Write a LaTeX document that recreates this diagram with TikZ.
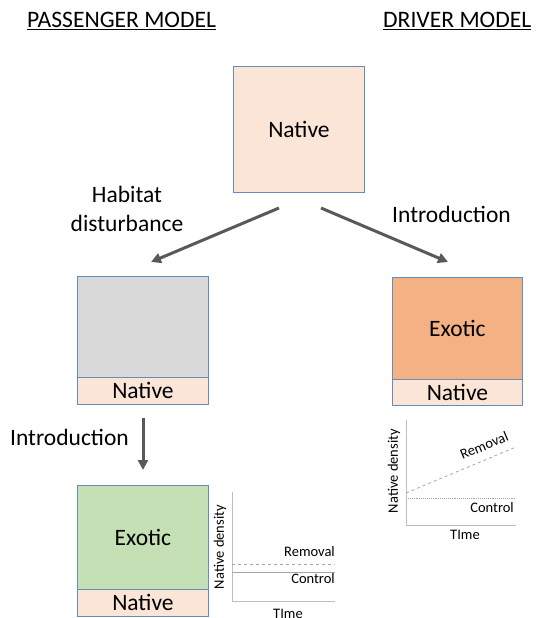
\documentclass[tikz,border=0pt]{standalone}
\usepackage{fontspec}
\setmainfont{Carlito}
\usetikzlibrary{arrows.meta}
\definecolor{nat}{RGB}{251,229,214}
\definecolor{edgeblue}{RGB}{100,140,190}
\definecolor{grayf}{RGB}{217,217,217}
\definecolor{exo}{RGB}{244,177,131}
\definecolor{grn}{RGB}{197,224,180}
\definecolor{arr}{RGB}{89,89,89}
\definecolor{axisc}{RGB}{191,191,191}
\definecolor{linec}{RGB}{166,166,166}
\begin{document}
\begin{tikzpicture}[x=1pt,y=-1pt,
  box/.style={draw=edgeblue, line width=0.9pt, inner sep=0pt, anchor=north west, font=\fontsize{23.5}{28}\selectfont},
  bigtxt/.style={inner sep=0pt, anchor=base, font=\fontsize{23.5}{29}\selectfont},
  ttl/.style={inner sep=0pt, anchor=base west, font=\fontsize{23.6}{28}\selectfont},
  small/.style={inner sep=0pt, font=\fontsize{14.5}{17}\selectfont},
  bigarrow/.style={draw=arr, line width=3pt, -{Triangle[length=10pt,width=10pt]}},
  axisline/.style={draw=axisc, line width=0.8pt},
  dashline/.style={draw=linec, line width=0.8pt, dashed},
  ctrlline/.style={draw=linec, line width=0.9pt}
]
\useasboundingbox (0,0) rectangle (536,618);
% titles
\node[ttl] (tp) at (27,28) {\underline{PASSENGER MODEL}};
\node[ttl] (td) at (383,28) {\underline{DRIVER MODEL}};
% top box
\node[box, fill=nat, minimum width=131pt, minimum height=126pt] (top) at (233,66) {Native};
% labels
\node[bigtxt, align=center] (hab) at (127,231) {Habitat\\disturbance};
\node[bigtxt, anchor=base west] (intr) at (392,222) {Introduction};
\node[bigtxt, anchor=base west] (intl) at (10,445) {Introduction};
% left middle
\node[box, fill=grayf, minimum width=131pt, minimum height=101pt] (lg) at (77,276) {};
\node[box, fill=nat, minimum width=131pt, minimum height=27pt] (ln) at (77,377) {Native};
% right middle
\node[box, fill=exo, minimum width=130pt, minimum height=102pt] (re) at (392,277) {Exotic};
\node[box, fill=nat, minimum width=130pt, minimum height=26pt] (rn) at (392,379) {Native};
% bottom left
\node[box, fill=grn, minimum width=131pt, minimum height=104pt] (be) at (77,485) {Exotic};
\node[box, fill=nat, minimum width=131pt, minimum height=27pt] (bn) at (77,589) {Native};
% arrows
\coordinate (a1s) at (279,208);
\coordinate (a1e) at (151,262);
\coordinate (a2s) at (321,208);
\coordinate (a2e) at (448,262);
\coordinate (a3s) at (143,418);
\coordinate (a3e) at (143,470);
\draw[bigarrow] (a1s) -- (a1e);
\draw[bigarrow] (a2s) -- (a2e);
\draw[bigarrow] (a3s) -- (a3e);
% bottom-left chart
\coordinate (bo) at (232,601);
\coordinate (by) at (232,492);
\coordinate (bx) at (335,601);
\draw[axisline] (by) -- (bo) -- (bx);
\coordinate (bd1) at (232,564);
\coordinate (bd2) at (335,564);
\draw[dashline] (bd1) -- (bd2);
\coordinate (bc1) at (232,572);
\coordinate (bc2) at (335,572);
\draw[ctrlline] (bc1) -- (bc2);
\node[small, anchor=base east] (brem) at (335,556) {Removal};
\node[small, anchor=base east] (bctl) at (335,583) {Control};
\node[small, rotate=90] (bnd) at (220,547) {Native density};
\node[small, anchor=north] (btime) at (288,609) {TIme};
% right chart
\coordinate (ro) at (406,525);
\coordinate (ry) at (406,420);
\coordinate (rx) at (516,525);
\draw[axisline] (ry) -- (ro) -- (rx);
\coordinate (rc1) at (406,498);
\coordinate (rc2) at (516,498);
\draw[ctrlline, densely dotted] (rc1) -- (rc2);
\coordinate (rd1) at (406,493);
\coordinate (rd2) at (516,447);
\draw[dashline] (rd1) -- (rd2);
\node[small, anchor=base, rotate=22.7] (rrem) at (486,450) {Removal};
\node[small, anchor=base east] (rctl) at (514,512) {Control};
\node[small, rotate=90] (rnd) at (394,471) {Native density};
\node[small] (rtime) at (465,535) {TIme};
\end{tikzpicture}
\end{document}
